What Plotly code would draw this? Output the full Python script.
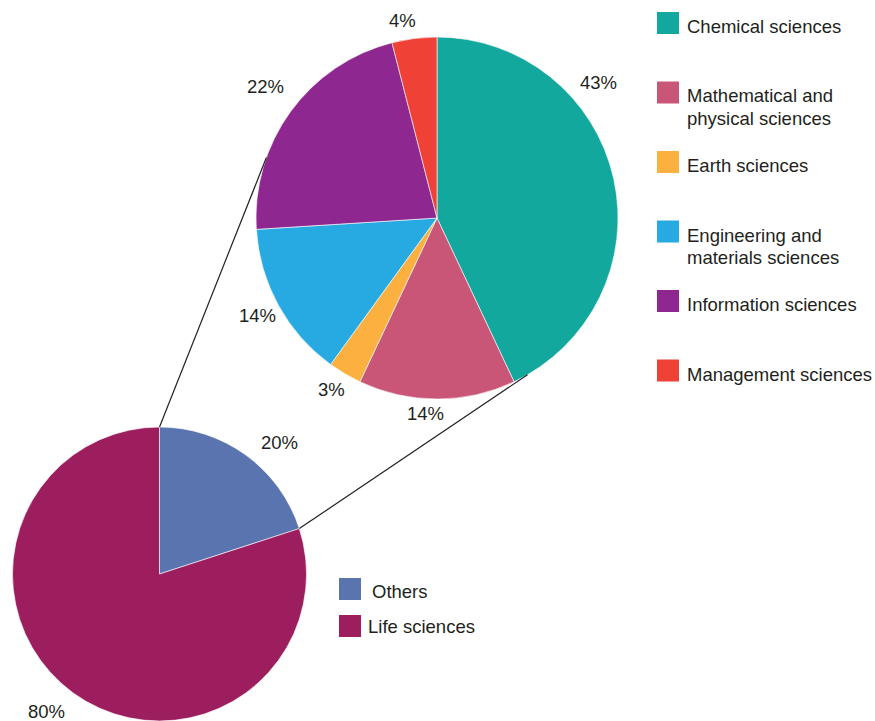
import plotly.graph_objects as go
import math

W, H = 875, 721

# ---- data ----
detail_labels = ["Chemical sciences", "Mathematical and<br>physical sciences", "Earth sciences",
                 "Engineering and<br>materials sciences", "Information sciences", "Management sciences"]
detail_values = [43, 14, 3, 14, 22, 4]
detail_colors = ["#13a89e", "#c95577", "#fbb040", "#27aae1", "#8e278f", "#ef4136"]

main_labels = ["Others", "Life sciences"]
main_values = [20, 80]
main_colors = ["#5a74b0", "#9d1e5e"]

TXT = "#231f20"
FONT = "Liberation Sans, Arial, sans-serif"
FS = 18.5

def px(x):
    return x / W

def py(y):
    return 1 - y / H

# geometry (pixels)
small_c, small_r = (437, 218), 181
big_c, big_r = (159.5, 574), 147

fig = go.Figure()
fig.add_trace(go.Pie(
    values=detail_values, labels=[l.replace("<br>", " ") for l in detail_labels],
    marker=dict(colors=detail_colors, line=dict(color="white", width=0.6)),
    sort=False, direction="clockwise", rotation=0, textinfo="none", hoverinfo="label+percent",
    domain=dict(x=[px(small_c[0] - small_r), px(small_c[0] + small_r)],
                y=[py(small_c[1] + small_r), py(small_c[1] - small_r)]),
    showlegend=False,
))
fig.add_trace(go.Pie(
    values=main_values, labels=main_labels,
    marker=dict(colors=main_colors, line=dict(color="white", width=0.6)),
    sort=False, direction="clockwise", rotation=0, textinfo="none", hoverinfo="label+percent",
    domain=dict(x=[px(big_c[0] - big_r), px(big_c[0] + big_r)],
                y=[max(0, py(big_c[1] + big_r)), py(big_c[1] - big_r)]),
    showlegend=False,
))

annotations = []
shapes = []

# percentage labels (positions are layout choices)
detail_label_pos = [(598, 83), (425, 413), (331, 389), (257, 315), (265, 87), (402, 21)]
main_label_pos = [(279, 443), (46, 711)]
for v, (x, y) in zip(detail_values + main_values, detail_label_pos + main_label_pos):
    annotations.append(dict(x=px(x), y=py(y), xref="paper", yref="paper", text=f"{v}%",
                            showarrow=False, font=dict(family=FONT, size=FS, color=TXT),
                            xanchor="center", yanchor="middle"))

# connector lines: from big pie "Others" slice edges to small pie rim
tot = sum(main_values)
others_end = main_values[0] / tot * 360
def rim(c, r, ang):
    a = math.radians(ang)
    return c[0] + r * math.sin(a), c[1] - r * math.cos(a)

conn = [(0, 289.5), (others_end, 150.0)]
for a_big, a_small in conn:
    x0, y0 = rim(big_c, big_r, a_big)
    x1, y1 = rim(small_c, small_r, a_small)
    shapes.append(dict(type="line", xref="paper", yref="paper", x0=px(x0), y0=py(y0),
                       x1=px(x1), y1=py(y1), line=dict(color="#231f20", width=1.2)))

# upper legend
leg_sq_x, leg_txt_x, leg_top, leg_step, sq, line_h = 657, 685, 12, 69.5, 22, 22
for i, (lab, col) in enumerate(zip(detail_labels, detail_colors)):
    top = leg_top + i * leg_step
    shapes.append(dict(type="rect", xref="paper", yref="paper", x0=px(leg_sq_x), x1=px(leg_sq_x + sq),
                       y0=py(top + sq), y1=py(top), fillcolor=col, line=dict(width=0)))
    for k, part in enumerate(lab.split("<br>")):
        annotations.append(dict(x=px(leg_txt_x), y=py(top + 14.5 + k * line_h), xref="paper", yref="paper",
                                text=part, showarrow=False, xanchor="left", yanchor="middle",
                                font=dict(family=FONT, size=FS, color=TXT)))

# lower legend
low_sq_x, low_tops = 339, [578, 615]
low_txt_x = [370, 366]
low_dy = [2, 0]
for i, (lab, col) in enumerate(zip(main_labels, main_colors)):
    top = low_tops[i]
    shapes.append(dict(type="rect", xref="paper", yref="paper", x0=px(low_sq_x), x1=px(low_sq_x + sq),
                       y0=py(top + sq), y1=py(top), fillcolor=col, line=dict(width=0)))
    annotations.append(dict(x=px(low_txt_x[i]), y=py(top + sq / 2 + low_dy[i]), xref="paper", yref="paper",
                            text=lab, showarrow=False, xanchor="left", yanchor="middle",
                            font=dict(family=FONT, size=FS, color=TXT)))

fig.update_layout(width=W, height=H, margin=dict(l=0, r=0, t=0, b=0),
                  paper_bgcolor="white", plot_bgcolor="white",
                  annotations=annotations, shapes=shapes)
fig.write_html("out.html", config={"displayModeBar": False},
               post_script="document.body.style.margin='0';document.body.style.overflow='hidden';")
